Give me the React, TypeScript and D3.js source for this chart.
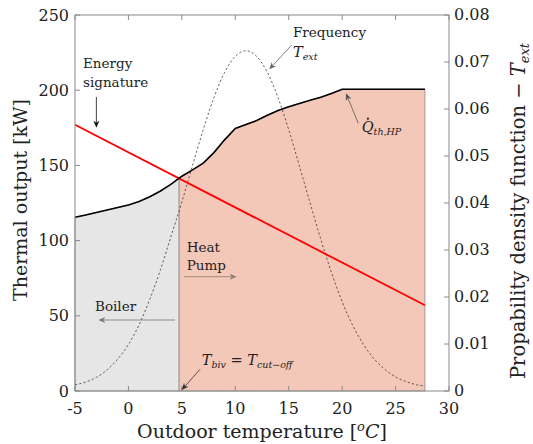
import React from "react";
import * as d3 from "d3";

// Outdoor temperature grid for the heat-pump capacity curve [°C]
const hpTemps = [-5, -4, -3, -2, -1, 0, 1, 2, 3, 4, 4.75, 5, 6, 7, 8, 9, 10, 11, 12, 13, 14, 15, 16, 17, 18, 19, 20, 27.75];
// Heat-pump thermal output [kW]
const hpOutput = [115.5, 117, 118.7, 120.3, 122, 123.7, 126, 129.2, 133, 137.5, 141.5, 142.8, 147, 151.5, 158.5, 167, 174.5, 177.2, 179.8, 183.3, 186.5, 189, 191.2, 193.3, 195.3, 197.8, 200.6, 200.6];

// Building energy signature (end points) [°C] / [kW]
const sigTemps = [-5, 27.75];
const sigLoad = [177, 57];

// Frequency of outdoor temperature (probability density)
const pdfTemps = [-5, -4, -3, -2, -1, 0, 1, 2, 3, 4, 5, 6, 7, 8, 9, 10, 11, 12, 13, 14, 15, 16, 17, 18, 19, 20, 21, 22, 23, 24, 25, 26, 27, 27.75];
const pdfValues = [0.0013, 0.0019, 0.0029, 0.0045, 0.0068, 0.0099, 0.0141, 0.0195, 0.0258, 0.033, 0.0402, 0.048, 0.0556, 0.0624, 0.0678, 0.0712, 0.0724, 0.0712, 0.0678, 0.0624, 0.0556, 0.0479, 0.04, 0.0323, 0.0252, 0.019, 0.0139, 0.0099, 0.0068, 0.0046, 0.003, 0.002, 0.0013, 0.0011];

// Bivalent / cut-off temperature [°C]
const tBiv = 4.75;

const xTicks = [-5, 0, 5, 10, 15, 20, 25, 30];
const yLeftTicks = [0, 50, 100, 150, 200, 250];
const yRightTicks = [0, 0.01, 0.02, 0.03, 0.04, 0.05, 0.06, 0.07, 0.08];

const FONT = '"DejaVu Serif"';
const AXIS = "#8a8a8a";
const TXT = "#222";

const W = 533;
const H = 444;
const M = { left: 75, right: 449, top: 15, bottom: 391 };

function Arrow({ x1, y1, x2, y2, color }: { x1: number; y1: number; x2: number; y2: number; color: string }) {
  const a = Math.atan2(y2 - y1, x2 - x1);
  const L = 7;
  const hw = 3;
  const n = 2;
  const bx = x2 - L * Math.cos(a);
  const by = y2 - L * Math.sin(a);
  const px = -Math.sin(a);
  const py = Math.cos(a);
  const nx = x2 - (L - n) * Math.cos(a);
  const ny = y2 - (L - n) * Math.sin(a);
  const head = `M${x2},${y2}L${bx + px * hw},${by + py * hw}L${nx},${ny}L${bx - px * hw},${by - py * hw}Z`;
  return (
    <g>
      <line x1={x1} y1={y1} x2={nx} y2={ny} stroke={color} strokeWidth={0.8} />
      <path d={head} fill={color} />
    </g>
  );
}

export default function App() {
  const x = d3.scaleLinear().domain([-5, 30]).range([M.left, M.right]);
  const yL = d3.scaleLinear().domain([0, 250]).range([M.bottom, M.top]);
  const yR = d3.scaleLinear().domain([0, 0.08]).range([M.bottom, M.top]);

  const hp = hpTemps.map((t, i) => ({ t, q: hpOutput[i] }));
  const boilerPart = hp.filter((d) => d.t <= tBiv);
  const hpPart = hp.filter((d) => d.t >= tBiv);

  const area = d3
    .area<{ t: number; q: number }>()
    .x((d) => x(d.t))
    .y0(yL(0))
    .y1((d) => yL(d.q));
  const hpLine = d3
    .line<{ t: number; q: number }>()
    .x((d) => x(d.t))
    .y((d) => yL(d.q));

  const sigLine = d3
    .line<number>()
    .x((_, i) => x(sigTemps[i]))
    .y((d) => yL(d))(sigLoad);

  const pdfLine = d3
    .line<number>()
    .x((_, i) => x(pdfTemps[i]))
    .y((d) => yR(d))
    .curve(d3.curveMonotoneX)(pdfValues);

  const tick = 5;
  const annFont = 13.5;
  const subFont = 9.5;

  return (
    <svg
      width={W}
      height={H}
      viewBox={`0 0 ${W} ${H}`}
      style={{ position: "absolute", left: 0, top: 0, background: "#fff" }}
    >
      <rect x={0} y={0} width={W} height={H} fill="#fff" />

      {/* filled operating regions */}
      <path d={area(boilerPart) ?? ""} fill="#e6e6e6" stroke={AXIS} strokeWidth={0.8} />
      <path d={area(hpPart) ?? ""} fill="#f4c8b9" stroke={AXIS} strokeWidth={0.8} />

      {/* temperature frequency */}
      <path d={pdfLine ?? ""} fill="none" stroke="#222" strokeWidth={0.7} strokeDasharray="2.2,2.2" />

      {/* energy signature */}
      <path d={sigLine ?? ""} fill="none" stroke="#ff0000" strokeWidth={1.8} />

      {/* heat-pump capacity */}
      <path d={hpLine(hp) ?? ""} fill="none" stroke="#000" strokeWidth={1.6} />

      {/* axes box */}
      <rect x={M.left} y={M.top} width={M.right - M.left} height={M.bottom - M.top} fill="none" stroke={AXIS} strokeWidth={1} />

      <g fontFamily={FONT}>
        {xTicks.map((t) => (
          <g key={`xt${t}`}>
            <line x1={x(t)} x2={x(t)} y1={M.bottom} y2={M.bottom - tick} stroke={AXIS} />
            <line x1={x(t)} x2={x(t)} y1={M.top} y2={M.top + tick} stroke={AXIS} />
            <text x={x(t)} y={414} textAnchor="middle" fontSize={16} fill={TXT}>
              {t}
            </text>
          </g>
        ))}
        {yLeftTicks.map((t) => (
          <g key={`yl${t}`}>
            <line x1={M.left} x2={M.left + tick} y1={yL(t)} y2={yL(t)} stroke={AXIS} />
            <text x={69} y={yL(t)} dy="0.35em" textAnchor="end" fontSize={16} fill={TXT}>
              {t}
            </text>
          </g>
        ))}
        {yRightTicks.map((t) => (
          <g key={`yr${t}`}>
            <line x1={M.right} x2={M.right - tick} y1={yR(t)} y2={yR(t)} stroke={AXIS} />
            <text x={454} y={yR(t)} dy="0.33em" textAnchor="start" fontSize={16} fill={TXT}>
              {t === 0 ? "0" : t.toFixed(2)}
            </text>
          </g>
        ))}

        {/* axis titles */}
        <text x={262} y={438} textAnchor="middle" fontSize={19} fill={TXT}>
          Outdoor temperature [
          <tspan fontStyle="italic" fontSize={13} dy={-7}>o</tspan>
          <tspan fontStyle="italic" dy={7}>C</tspan>]
        </text>
        <text transform="translate(27,200) rotate(-90)" textAnchor="middle" fontSize={19} fill={TXT}>
          Thermal output [kW]
        </text>
        <text transform="translate(525,211) rotate(-90)" textAnchor="middle" fontSize={19.5} fill={TXT}>
          Propability density function − <tspan fontStyle="italic">T</tspan>
          <tspan fontStyle="italic" fontSize={13} dy={4}>ext</tspan>
        </text>

        {/* annotations */}
        <text x={x(-4.25)} y={yL(214.8)} fontSize={annFont} fill={TXT}>Energy</text>
        <text x={x(-4.25)} y={yL(202)} fontSize={annFont} fill={TXT}>signature</text>

        <text x={x(15.4)} y={yL(235.4)} fontSize={annFont} fill={TXT}>Frequency</text>
        <text x={x(15.4)} y={yL(222)} fontSize={annFont + 1} fill={TXT}>
          <tspan fontStyle="italic">T</tspan>
          <tspan fontStyle="italic" fontSize={subFont} dy={3}>ext</tspan>
        </text>

        <text x={x(21.83)} y={yL(172.4)} fontSize={annFont + 1} fill={TXT}>
          <tspan fontStyle="italic">Q</tspan>
          <tspan fontStyle="italic" fontSize={subFont} dy={3}>th,HP</tspan>
        </text>

        <text x={x(5.45)} y={yL(92.6)} fontSize={annFont} fill={TXT}>Heat</text>
        <text x={x(5.45)} y={yL(80.5)} fontSize={annFont} fill={TXT}>Pump</text>

        <text x={x(-3.13)} y={yL(53.4)} fontSize={annFont} fill={TXT}>Boiler</text>

        <text x={x(6.86)} y={yL(17.3)} fontSize={annFont + 1} fill={TXT}>
          <tspan fontStyle="italic">T</tspan>
          <tspan fontStyle="italic" fontSize={subFont} dy={3}>biv</tspan>
          <tspan dy={-3}> = </tspan>
          <tspan fontStyle="italic">T</tspan>
          <tspan fontStyle="italic" fontSize={subFont} dy={3}>cut−off</tspan>
        </text>
      </g>

      <Arrow x1={x(-3)} y1={yL(195.5)} x2={x(-3)} y2={yL(175)} color="#111" />
      <Arrow x1={x(15.28)} y1={yL(230)} x2={x(13.18)} y2={yL(213.9)} color="#666" />
      <circle cx={x(21.83) + 6.2} cy={yL(172.4) - 13} r={1.1} fill={TXT} />
      <Arrow x1={x(21.51)} y1={yL(178)} x2={x(20.36)} y2={yL(197.9)} color="#555" />
      <Arrow x1={x(5.2)} y1={yL(76)} x2={x(10.13)} y2={yL(76)} color="#8a7c74" />
      <Arrow x1={x(4.36)} y1={yL(47.2)} x2={x(-2.82)} y2={yL(47.2)} color="#777" />
      <Arrow x1={x(6.7)} y1={yL(14.4)} x2={x(4.98)} y2={yL(0.66)} color="#333" />
    </svg>
  );
}
